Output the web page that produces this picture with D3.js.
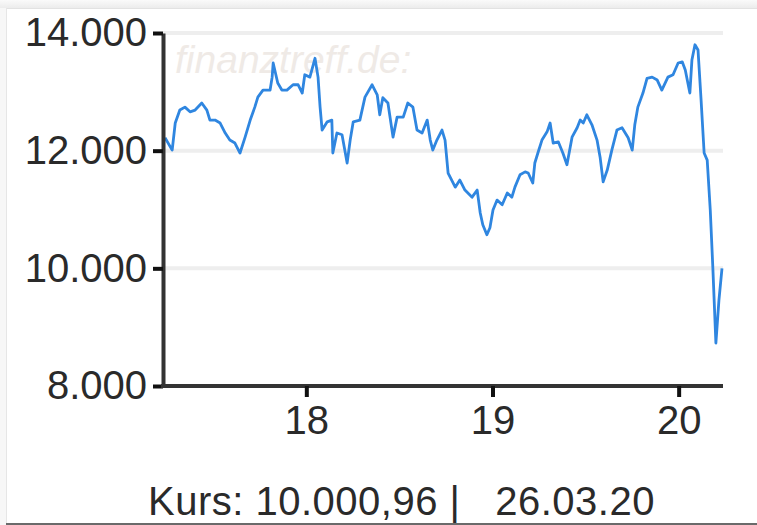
<!DOCTYPE html>
<html>
<head>
<meta charset="utf-8">
<script src="https://cdn.jsdelivr.net/npm/d3@7"></script>
<style>
  body { margin: 0; background: #fff; }
  text { font-family: "Liberation Sans", Arial, sans-serif; }
</style>
</head>
<body>
<div id="chart-area"></div>
<script>
// Kursdaten
const dates = [
  "2017-03-30","2017-04-13","2017-04-19","2017-04-28","2017-05-08","2017-05-18","2017-05-28","2017-06-10",
  "2017-06-20","2017-06-26","2017-07-06","2017-07-16","2017-07-26","2017-08-04","2017-08-14","2017-08-24",
  "2017-09-03","2017-09-13","2017-09-22","2017-09-28","2017-10-08","2017-10-22","2017-10-26","2017-10-28",
  "2017-11-06","2017-11-14","2017-11-24","2017-12-06","2017-12-16","2017-12-24","2017-12-29","2018-01-08",
  "2018-01-18","2018-01-24","2018-01-28","2018-02-01","2018-02-11","2018-02-20","2018-02-22","2018-03-02",
  "2018-03-12","2018-03-22","2018-03-28","2018-04-03","2018-04-16","2018-04-26","2018-05-10","2018-05-20",
  "2018-05-25","2018-05-31","2018-06-10","2018-06-20","2018-06-28","2018-07-10","2018-07-19","2018-07-29",
  "2018-08-06","2018-08-16","2018-08-26","2018-09-01","2018-09-06","2018-09-14","2018-09-24","2018-09-30",
  "2018-10-06","2018-10-10","2018-10-20","2018-10-29","2018-11-08","2018-11-22","2018-12-02","2018-12-08",
  "2018-12-13","2018-12-21","2018-12-27","2019-01-02","2019-01-10","2019-01-20","2019-01-30","2019-02-08",
  "2019-02-14","2019-02-24","2019-03-06","2019-03-12","2019-03-21","2019-03-25","2019-03-31","2019-04-08",
  "2019-04-18","2019-04-24","2019-04-30","2019-05-10","2019-05-19","2019-05-27","2019-06-06","2019-06-16",
  "2019-06-22","2019-06-28","2019-07-05","2019-07-15","2019-07-25","2019-07-31","2019-08-06","2019-08-14",
  "2019-08-23","2019-09-02","2019-09-12","2019-09-24","2019-10-02","2019-10-07","2019-10-13","2019-10-23",
  "2019-10-31","2019-11-10","2019-11-20","2019-11-29","2019-12-11","2019-12-21","2019-12-31","2020-01-08",
  "2020-01-14","2020-01-23","2020-01-27","2020-02-02","2020-02-08","2020-02-14","2020-02-20","2020-02-26",
  "2020-03-03","2020-03-08","2020-03-14","2020-03-20","2020-03-26"
]
const kurs = [
  12220,12010,12470,12690,12740,12660,12690,12810,
  12690,12520,12520,12470,12300,12180,12130,11960,
  12230,12520,12740,12910,13030,13030,13250,13490,
  13150,13030,13030,13120,13120,12980,13290,13250,
  13570,13250,12740,12350,12490,12520,11960,12300,
  12270,11790,12180,12490,12520,12910,13120,12950,
  12610,12900,12810,12230,12570,12570,12810,12740,
  12350,12300,12520,12180,12010,12180,12350,12180,
  11620,11550,11380,11500,11330,11210,11330,10940,
  10740,10570,10690,10990,11160,11080,11280,11210,
  11380,11590,11640,11620,11450,11790,11960,12180,
  12320,12470,12130,12150,11960,11760,12230,12390,
  12520,12470,12610,12440,12180,11890,11470,11670,
  12010,12350,12390,12220,12010,12440,12740,12980,
  13230,13250,13200,13030,13250,13290,13490,13510,
  13370,12980,13540,13800,13710,12860,11960,11840,
  10990,10020,8730,9460,10000.96
]

const yTicks = [8000, 10000, 12000, 14000]
const xTicks = ["2018-01-01", "2019-01-01", "2020-01-01"]
const startDate = "2017-03-26", endDate = "2020-03-26"
const lastKurs = "10.000,96", lastDate = "26.03.20"
const watermark = "finanztreff.de:"

const margin = {top: 33, right: 34, bottom: 139, left: 163},
      width = 757 - margin.left - margin.right,
      height = 525 - margin.top - margin.bottom;

const parse = d3.timeParse("%Y-%m-%d")
const data = dates.map((d, i) => ({date: parse(d), value: kurs[i]}))

const de = d3.formatLocale({decimal: ",", thousands: ".", grouping: [3], currency: ["", " €"]})

const root = d3.select("#chart-area")
  .append("svg")
    .attr("width", 757)
    .attr("height", 525)

// Rahmen
const defs = root.append("defs")
const shade = defs.append("linearGradient").attr("id", "shade").attr("x1", 0).attr("x2", 0).attr("y1", 0).attr("y2", 1)
shade.append("stop").attr("offset", 0).attr("stop-color", "#fafafa")
shade.append("stop").attr("offset", 1).attr("stop-color", "#ececec")
root.append("rect").attr("x", 0).attr("y", 0).attr("width", 757).attr("height", 8).attr("fill", "url(#shade)")
root.append("rect").attr("x", 0).attr("y", 8).attr("width", 6).attr("height", 517).attr("fill", "#f7f7f7")
root.append("line").attr("x1", 6).attr("x2", 757).attr("y1", 8.5).attr("y2", 8.5).attr("stroke", "#e2e2e2")
root.append("line").attr("x1", 6.5).attr("x2", 6.5).attr("y1", 8).attr("y2", 525).attr("stroke", "#e6e6e6")
root.append("line").attr("x1", 6).attr("x2", 757).attr("y1", 524).attr("y2", 524).attr("stroke", "#6a6a6a").attr("stroke-width", 2)

const svg = root.append("g")
  .attr("transform", `translate(${margin.left},${margin.top})`)

const x = d3.scaleTime()
  .domain([parse(startDate), parse(endDate)])
  .range([0, width - 1])

const y = d3.scaleLinear()
  .domain([8000, 14000])
  .range([height, 0])

// Gitterlinien
svg.selectAll(".grid")
  .data(yTicks.filter(d => d > 8000))
  .join("line")
    .attr("class", "grid")
    .attr("x1", 0)
    .attr("x2", width)
    .attr("y1", d => y(d))
    .attr("y2", d => y(d))
    .attr("stroke", "#eeeeee")
    .attr("stroke-width", 4)

// Wasserzeichen
svg.append("text")
  .attr("x", 12)
  .attr("y", 40)
  .attr("font-size", 39)
  .attr("font-style", "italic")
  .attr("fill", "#efeae6")
  .text(watermark)

// Kurslinie
svg.append("path")
  .datum(data)
  .attr("fill", "none")
  .attr("stroke", "#2f86e0")
  .attr("stroke-width", 2.8)
  .attr("stroke-linejoin", "round")
  .attr("d", d3.line().x(d => x(d.date)).y(d => y(d.value)))

// Y Achse
const yaxis = svg.append("g")
  .call(d3.axisLeft(y).tickValues(yTicks).tickFormat(de.format(",.0f")).tickSize(10).tickSizeOuter(0).tickPadding(6))
yaxis.select(".domain").attr("stroke", "#333").attr("stroke-width", 4)
yaxis.selectAll(".tick line").attr("stroke", "#111").attr("stroke-width", 4)
yaxis.selectAll("text").attr("font-size", 40).attr("fill", "#2a2a2a").attr("font-family", "Liberation Sans, Arial, sans-serif")

// X Achse
const xaxis = svg.append("g")
  .attr("transform", `translate(0, ${height})`)
  .call(d3.axisBottom(x).tickValues(xTicks.map(parse)).tickFormat(d3.timeFormat("%y")).tickSize(11).tickSizeOuter(0).tickPadding(9))
xaxis.select(".domain").attr("stroke", "#333").attr("stroke-width", 4).attr("d", `M-2,0H${width}`)
xaxis.selectAll(".tick line").attr("stroke", "#111").attr("stroke-width", 4)
xaxis.selectAll("text").attr("font-size", 40).attr("fill", "#2a2a2a").attr("font-family", "Liberation Sans, Arial, sans-serif")

// Fusszeile
root.append("text")
  .attr("x", 148)
  .attr("y", 515)
  .attr("font-size", 40)
  .attr("letter-spacing", 0.5)
  .attr("fill", "#2a2a2a")
  .style("white-space", "pre")
  .text(`Kurs: ${lastKurs} |   ${lastDate}`)
</script>
</body>
</html>
